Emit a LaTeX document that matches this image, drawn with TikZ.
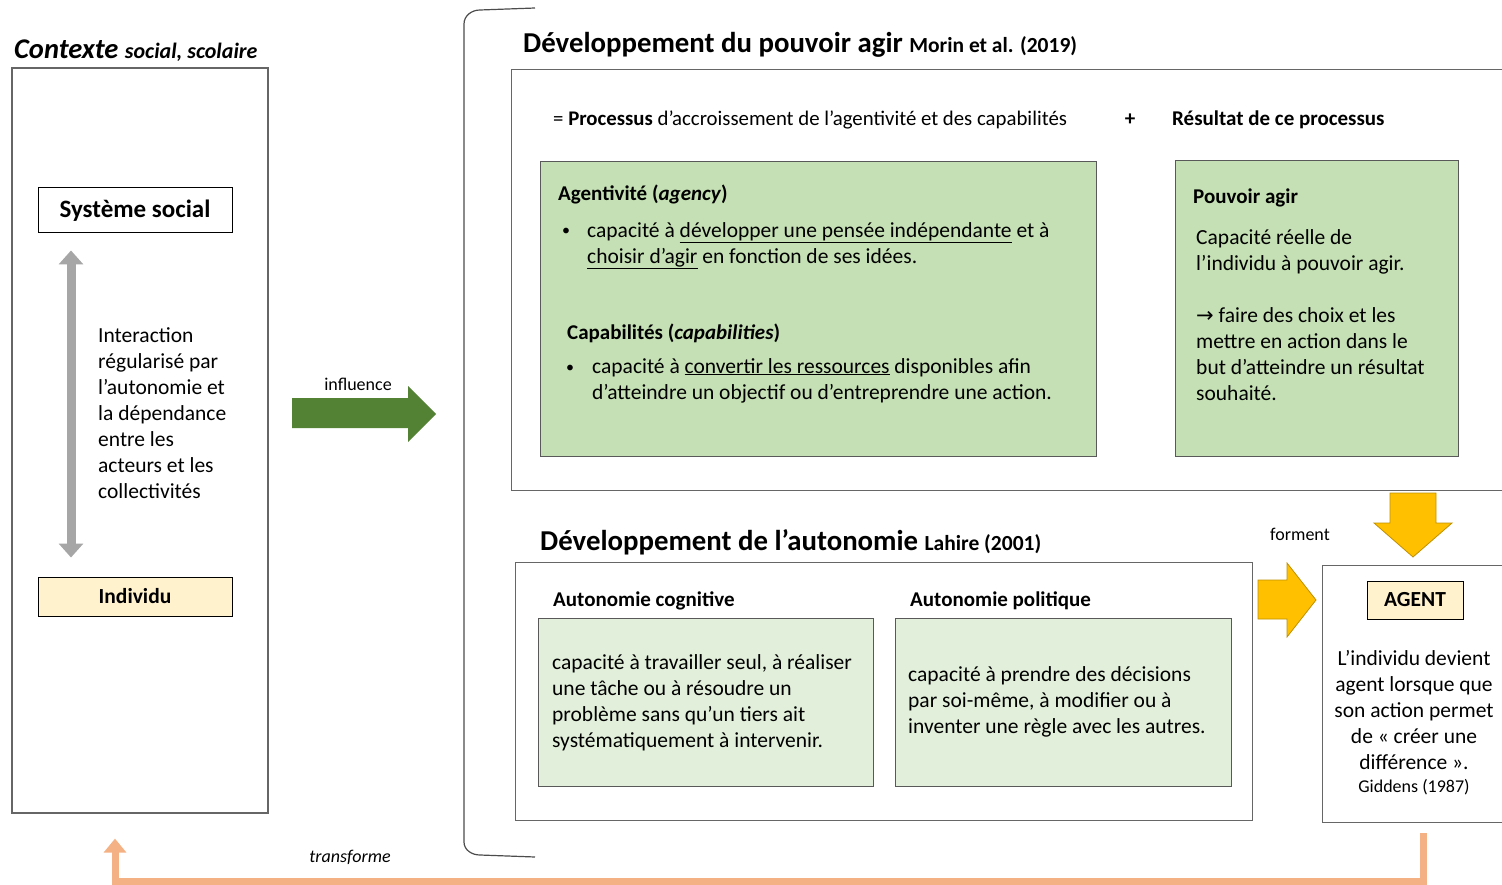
\documentclass[tikz,border=0pt]{standalone}
\usepackage{fontspec}
\setmainfont{Carlito}
\newfontfamily\symfont{DejaVu Sans}
\usetikzlibrary{arrows.meta}
\definecolor{leafgreen}{HTML}{C5E0B4}
\definecolor{palegreen}{HTML}{E2EFDA}
\definecolor{cream}{HTML}{FFF2CC}
\definecolor{gold}{HTML}{FFC000}
\definecolor{golddark}{HTML}{BF9000}
\definecolor{peach}{HTML}{F4B183}
\definecolor{moss}{HTML}{548235}
\begin{document}
\begin{tikzpicture}[x=1pt, y=-1pt,
    every node/.style={font=\fontsize{21.5}{26}\selectfont, inner sep=0pt},
    panel/.style={draw=black!60, line width=1.2pt, fill=white},
    leafbox/.style={draw=black!65, line width=1.2pt, fill=leafgreen},
    palebox/.style={draw=black!65, line width=1.2pt, fill=palegreen},
    tagbox/.style={draw=black, line width=1pt},
    small/.style={font=\fontsize{18}{22}\selectfont},
    bigtitle/.style={anchor=base west, font=\fontsize{28.8}{33}\selectfont\bfseries},
    blockarrow/.style={draw=golddark, line width=0.8pt, fill=gold}
  ]
  \useasboundingbox (0,0) rectangle (1502,885);
  \clip (0,0) rectangle (1502,885);

  % context side
  \node[anchor=base west, font=\fontsize{28.5}{32}\selectfont\bfseries\itshape] (ctxtitle) at (14,59)
    {Contexte \fontsize{22}{26}\selectfont social, scolaire};
  \node[panel, minimum width=256, minimum height=745] (ctx) at (140,440.5) {};
  \node[tagbox, fill=white, minimum width=194, minimum height=45] (sys) at (135,210.5)
    {\fontsize{25}{28}\selectfont\bfseries Système social};
  \node[tagbox, fill=cream, minimum width=194, minimum height=39] (ind) at (135,596.5)
    {\bfseries Individu};
  \draw[draw=black!35, line width=9pt, {Triangle[width=24pt,length=14pt]}-{Triangle[width=24pt,length=14pt]}]
    ([xshift=-64pt, yshift=-17pt]sys.south) -- ([xshift=-64pt, yshift=19pt]ind.north);
  \node[anchor=north west, align=left] (inter) at (98,327)
    {Interaction\\régularisé par\\l’autonomie et\\la dépendance\\entre les\\acteurs et les\\collectivités};

  % influence
  \node[small] (infl) at (358,384) {influence};
  \fill[moss] (292,398) -- (408,398) -- (408,386) -- (436,414) -- (408,442) -- (408,428) -- (292,428) -- cycle;

  % bracket
  \draw[black!70, line width=1.2pt] (535,8) -- (480,10) to[out=180,in=90] (464,24)
    -- (464,842) to[out=-90,in=180] (480,855) -- (535,857);

  % pouvoir agir
  \node[bigtitle] (ttl1) at (523,53)
    {Développement du pouvoir agir \fontsize{21.5}{25}\selectfont Morin et al. (2019)};
  \node[panel, anchor=north west, minimum width=1010, minimum height=421] (pouvoir) at (511,69) {};
  \node[anchor=base west, font=\fontsize{20.8}{24}\selectfont] (proc) at (553,126)
    {= \textbf{Processus} d’accroissement de l’agentivité et des capabilités};
  \node[anchor=base, font=\fontsize{21}{24}\selectfont\bfseries] (plus) at (1130,126) {+};
  \node[anchor=base west, font=\fontsize{21}{24}\selectfont\bfseries] (res) at (1172,126)
    {Résultat de ce processus};

  \node[leafbox, anchor=north west, minimum width=556, minimum height=295] (agency) at (540,161) {};
  \node[anchor=base west, font=\fontsize{21}{25}\selectfont\bfseries] (agtitle) at (558,201)
    {Agentivité (\textit{agency})};
  \node[anchor=base, font=\fontsize{16}{26}\selectfont] (dot1) at (566,236) {•};
  \node[anchor=north west, align=left] (agtext) at (587,222)
    {capacité à \underline{développer une pensée indépendante} et à\\\underline{choisir d’agir} en fonction de ses idées.};
  \node[anchor=base west, font=\fontsize{21}{25}\selectfont\bfseries] (captitle) at (567,339)
    {Capabilités (\textit{capabilities})};
  \node[anchor=base, font=\fontsize{16}{26}\selectfont] (dot2) at (570,372) {•};
  \node[anchor=north west, align=left] (captext) at (592,358)
    {capacité à \underline{convertir les ressources} disponibles afin\\d’atteindre un objectif ou d’entreprendre une action.};

  \node[leafbox, anchor=north west, minimum width=283, minimum height=296] (result) at (1175,160) {};
  \node[anchor=base west, font=\fontsize{21}{25}\selectfont\bfseries] (restitle) at (1193,204) {Pouvoir agir};
  \node[anchor=north west, align=left] (restext) at (1196,229)
    {Capacité réelle de\\l’individu à pouvoir agir.\\[26pt]{\symfont\fontsize{21}{26}\selectfont →} faire des choix et les\\mettre en action dans le\\but d’atteindre un résultat\\souhaité.};

  \draw[blockarrow] (1390,493) -- (1436,493) -- (1436,523) -- (1452,523) -- (1413,557)
    -- (1374,523) -- (1390,523) -- cycle;

  % autonomie
  \node[bigtitle] (ttl2) at (540,550)
    {Développement de l’autonomie \fontsize{21.5}{25}\selectfont Lahire (2001)};
  \node[small] (form) at (1300,534) {forment};
  \node[panel, anchor=north west, minimum width=737, minimum height=258] (auto) at (515,562) {};
  \node[anchor=base west, font=\fontsize{21}{25}\selectfont\bfseries] (cogtitle) at (553,606) {Autonomie cognitive};
  \node[anchor=base west, font=\fontsize{21}{25}\selectfont\bfseries] (poltitle) at (910,606) {Autonomie politique};
  \node[palebox, anchor=north west, minimum width=335, minimum height=168] (cog) at (538,618) {};
  \node[palebox, anchor=north west, minimum width=336, minimum height=168] (pol) at (895,618) {};
  \node[anchor=north west, align=left] (cogtext) at (552,654)
    {capacité à travailler seul, à réaliser\\une tâche ou à résoudre un\\problème sans qu’un tiers ait\\systématiquement à intervenir.};
  \node[anchor=north west, align=left] (poltext) at (908,666)
    {capacité à prendre des décisions\\par soi-même, à modifier ou à\\inventer une règle avec les autres.};

  \draw[blockarrow] (1258,580) -- (1287,580) -- (1287,563) -- (1316,600) -- (1287,637)
    -- (1287,619) -- (1258,619) -- cycle;

  % agent
  \node[panel, anchor=north west, minimum width=202, minimum height=257] (agent) at (1322,565) {};
  \node[tagbox, fill=cream, minimum width=96, minimum height=38] (agenttag) at (1415,600) {\bfseries AGENT};
  \node[anchor=north, align=center] (agenttext) at (1414,650)
    {L’individu devient\\agent lorsque que\\son action permet\\de « créer une\\différence ».};
  \node[small] (gidd) at (1414,787) {Giddens (1987)};

  % transforme
  \draw[peach, line width=7pt, -{Triangle[width=22pt,length=14pt]}]
    ([yshift=-10pt]agent.south) -- ++(0,48) -| ([xshift=-25pt, yshift=-25pt]ctx.south);
  \node[small, font=\fontsize{18}{22}\selectfont\itshape] (transf) at (350,857) {transforme};
\end{tikzpicture}
\end{document}
